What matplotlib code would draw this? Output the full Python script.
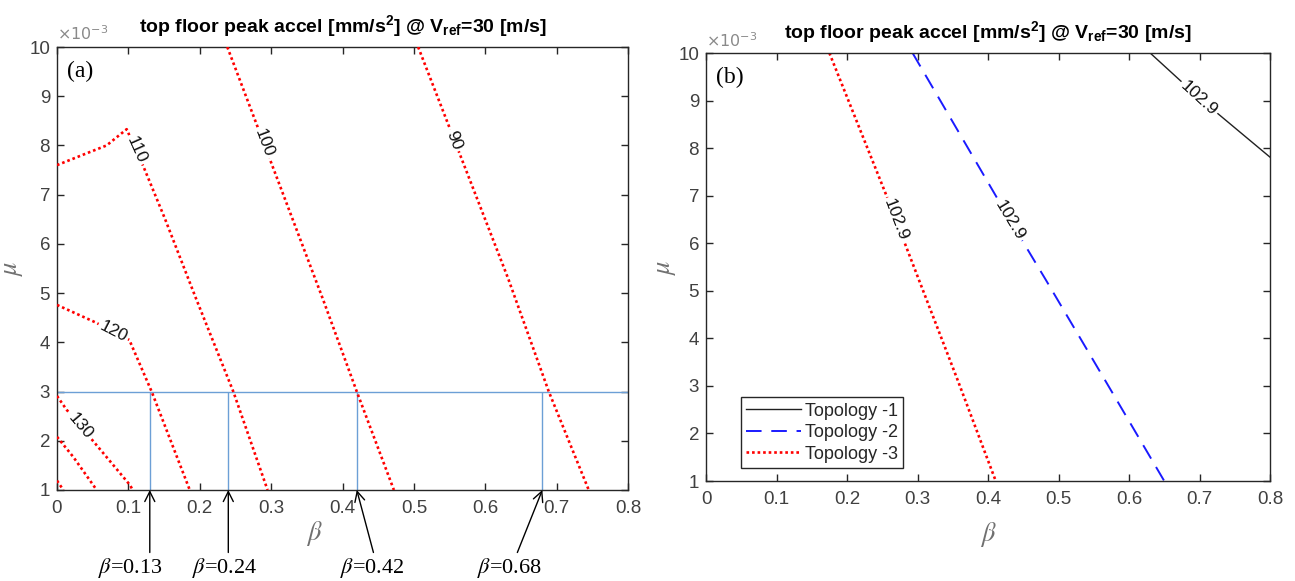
import numpy as np
import matplotlib.pyplot as plt

plt.rcParams['font.family'] = ['Liberation Sans', 'DejaVu Sans']
plt.rcParams['mathtext.fontset'] = 'custom'
plt.rcParams['mathtext.rm'] = 'Liberation Sans:bold'
plt.rcParams['mathtext.it'] = 'Liberation Sans:bold'
plt.rcParams['mathtext.bf'] = 'Liberation Sans:bold'

TITLE = r'top floor peak accel [mm/s$^{2}$] @ V$_{ref}$=30 [m/s]'

# (a) topology-3 contours, mu in units of 1e-3
c90_beta = [0.506, 0.632, 0.689, 0.745]
c90_mu = [10.0, 5.3, 3.0, 1.0]
c100_beta = [0.2386, 0.372, 0.420, 0.472]
c100_mu = [10.0, 4.9, 3.0, 1.0]
c110_beta = [0.0, 0.0415, 0.0695, 0.0976, 0.122, 0.151, 0.1945, 0.247, 0.295]
c110_mu = [7.60, 7.84, 8.00, 8.33, 7.54, 6.52, 4.9, 3.0, 1.0]
c120_beta = [0.0, 0.0532, 0.1013, 0.1326, 0.186]
c120_mu = [4.76, 4.41, 4.05, 3.0, 1.0]
c130_beta = [0.0, 0.0135, 0.0532, 0.1023, 0.106]
c130_mu = [2.91, 2.63, 1.95, 1.10, 1.0]
c140_beta = [0.0, 0.0229, 0.0556]
c140_mu = [2.08, 1.67, 1.0]
c150_beta = [0.0, 0.0089]
c150_mu = [1.19, 1.0]

left_levels = ['90', '100', '110', '120', '130']
left_lab_beta = [0.556, 0.2896, 0.1107, 0.079, 0.0322]
left_lab_mu = [8.1, 8.05, 7.91, 4.22, 2.29]

# design point mu = 3e-3 and the beta
mu_design = 3.0
beta_marks = [0.13, 0.24, 0.42, 0.68]
beta_texts = [r'$\beta$=0.13', r'$\beta$=0.24', r'$\beta$=0.42', r'$\beta$=0.68']

# (b) 102.9 contour for each topology
topo1_beta = [0.630, 0.703, 0.80]
topo1_mu = [10.0, 9.01, 7.81]
topo2_beta = [0.293, 0.431, 0.482, 0.566, 0.650]
topo2_mu = [10.0, 6.49, 5.23, 3.12, 1.0]
topo3_beta = [0.175, 0.256, 0.302, 0.357, 0.411]
topo3_mu = [10.0, 7.0, 5.23, 3.12, 1.0]
right_level = '102.9'
right_lab_beta = [0.699, 0.431, 0.2695]
right_lab_mu = [9.05, 6.49, 6.49]
topo_names = ['Topology -1', 'Topology -2', 'Topology -3']

xticks = [0, 0.1, 0.2, 0.3, 0.4, 0.5, 0.6, 0.7, 0.8]
xticklabels = ['0', '0.1', '0.2', '0.3', '0.4', '0.5', '0.6', '0.7', '0.8']
yticks = [1, 2, 3, 4, 5, 6, 7, 8, 9, 10]

DOT = dict(color='red', lw=1.9, linestyle=(0, (1, 1.1)), dash_capstyle='butt')
DASH = dict(color='#1a1aff', lw=1.4, linestyle=(0, (8, 5)))
SOLID = dict(color='#202020', lw=1.0)


def style_axes(ax, panel):
    ax.set_xlim(0, 0.8)
    ax.set_ylim(1, 10)
    ax.set_xticks(xticks)
    ax.set_xticklabels(xticklabels)
    ax.set_yticks(yticks)
    ax.tick_params(direction='in', top=True, right=True, length=5, width=1,
                   color='#262626', labelcolor='#404040', labelsize=13.5)
    ax.tick_params(axis='x', pad=7)
    ax.tick_params(axis='y', pad=5)
    for s in ax.spines.values():
        s.set_color('#262626')
        s.set_linewidth(1)
    ax.text(0, 1.008, r'$\times10^{-3}$', transform=ax.transAxes, ha='left',
            va='bottom', fontsize=11.5, color='#8a8a8a', math_fontfamily='dejavusans')
    ax.set_title(TITLE, fontsize=14, fontweight='bold', pad=11)
    ax.set_xlabel(r'$\beta$', fontsize=19, color='#707070', math_fontfamily='stix')
    ax.set_ylabel(r'$\mu$', fontsize=19, color='#707070', math_fontfamily='stix')
    ax.text(0.018, 0.968, panel, transform=ax.transAxes, ha='left', va='top',
            fontsize=17, family='Liberation Serif')


def inline_label(ax, xs, ys, bx, by, text):
    # rotate the label along the nearest segment of the polyline
    pts = ax.transData.transform(np.column_stack([xs, ys]))
    p = np.array(ax.transData.transform((bx, by)))
    d = np.hypot(*(pts[:-1] - p).T) + np.hypot(*(pts[1:] - p).T)
    i = int(np.argmin(d))
    dx, dy = pts[i + 1] - pts[i]
    ang = np.degrees(np.arctan2(dy, dx))
    if ang > 90:
        ang -= 180
    if ang < -90:
        ang += 180
    ax.text(bx, by, text, rotation=ang, rotation_mode='anchor', ha='center',
            va='center', fontsize=12.5, color='#111111', zorder=5,
            bbox=dict(boxstyle='square,pad=0.12', fc='white', ec='none'))


fig = plt.figure(figsize=(12.95, 5.81), dpi=100)
axL = fig.add_axes([57 / 1295, 91 / 581, 571 / 1295, 443 / 581])
axR = fig.add_axes([706 / 1295, 100 / 581, 564 / 1295, 428 / 581])

# ---- (a)
style_axes(axL, '(a)')
axL.xaxis.set_label_coords(0.45, -0.065)
axL.yaxis.set_label_coords(-0.056, 0.5)
left_lines = [(c90_beta, c90_mu), (c100_beta, c100_mu), (c110_beta, c110_mu),
              (c120_beta, c120_mu), (c130_beta, c130_mu), (c140_beta, c140_mu),
              (c150_beta, c150_mu)]
for bx, my in left_lines:
    axL.plot(bx, my, **DOT, zorder=3)
for k, lev in enumerate(left_levels):
    inline_label(axL, left_lines[k][0], left_lines[k][1],
                 left_lab_beta[k], left_lab_mu[k], lev)

axL.axhline(mu_design, color='#6c9fd6', lw=1, zorder=2)
axL.vlines(beta_marks, 1, mu_design, color='#6c9fd6', lw=1, zorder=2)

# arrows and captions under the beta axis (offsets in points)
tail_dx = [0, 0, 12, -18]
text_dx = [-14, -3, 11, -24]
for b, s, tdx, xdx in zip(beta_marks, beta_texts, tail_dx, text_dx):
    axL.annotate('', xy=(b, 1), xytext=(tdx, -45), textcoords='offset points',
                 annotation_clip=False,
                 arrowprops=dict(arrowstyle='->', lw=1, color='black',
                                 shrinkA=0, shrinkB=0, mutation_scale=18))
    axL.annotate(s, xy=(b, 1), xytext=(xdx, -56), textcoords='offset points',
                 ha='center', va='center', fontsize=16, family='Liberation Serif',
                 math_fontfamily='stix', annotation_clip=False)

# ---- (b)
style_axes(axR, '(b)')
axR.xaxis.set_label_coords(0.5, -0.09)
axR.yaxis.set_label_coords(-0.05, 0.5)
h1, = axR.plot(topo1_beta, topo1_mu, **SOLID, label=topo_names[0])
h2, = axR.plot(topo2_beta, topo2_mu, **DASH, label=topo_names[1])
h3, = axR.plot(topo3_beta, topo3_mu, **DOT, label=topo_names[2])
right_lines = [(topo1_beta, topo1_mu), (topo2_beta, topo2_mu), (topo3_beta, topo3_mu)]
for k in range(3):
    inline_label(axR, right_lines[k][0], right_lines[k][1],
                 right_lab_beta[k], right_lab_mu[k], right_level)

leg = axR.legend(handles=[h1, h2, h3], loc='lower left', bbox_to_anchor=(0.062, 0.03),
                 borderaxespad=0, fontsize=13, handlelength=3.0, handletextpad=0.25,
                 labelspacing=0.25, borderpad=0.3, fancybox=False, framealpha=1)
leg.get_frame().set_edgecolor('#262626')
leg.get_frame().set_linewidth(1)
for t in leg.get_texts():
    t.set_color('#262626')

fig.savefig('out.png', dpi=100, facecolor='white')
